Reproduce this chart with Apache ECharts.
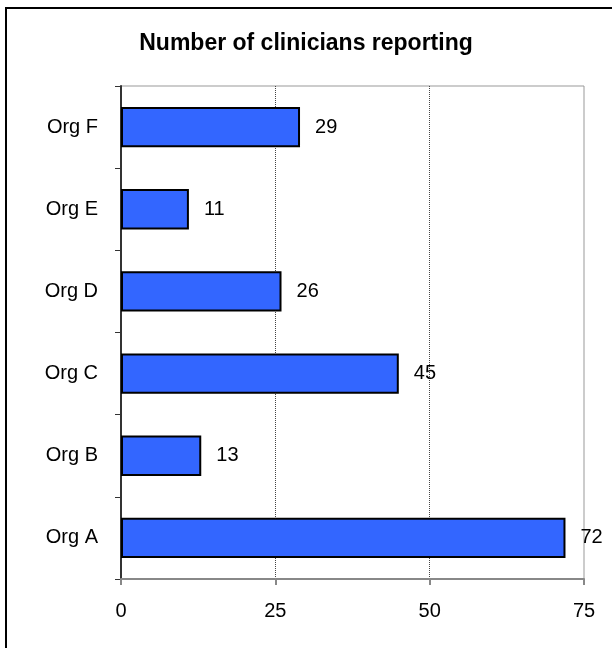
<!DOCTYPE html>
<html>
<head>
<meta charset="utf-8">
<script src="https://cdn.jsdelivr.net/npm/echarts@6/dist/echarts.min.js"></script>
<style>html,body{margin:0;padding:0;background:#fff}#c{width:612px;height:648px}</style>
</head>
<body>
<div id="c"></div>
<script>
const categories = ['Org A', 'Org B', 'Org C', 'Org D', 'Org E', 'Org F'];
const values = [72, 13, 45, 26, 11, 29];
const titleText = 'Number of clinicians reporting';

const FONT = '"Liberation Sans", Arial, sans-serif';
const chart = echarts.init(document.getElementById('c'), null, {renderer: 'canvas'});
chart.setOption({
  animation: false,
  backgroundColor: '#fff',
  graphic: [{
    type: 'rect', shape: {x: 6, y: 8, width: 640, height: 680},
    style: {fill: 'none', stroke: '#000', lineWidth: 2}, z: 100
  }],
  title: {
    text: titleText, left: 'center', top: 27,
    textStyle: {fontFamily: FONT, fontWeight: 'bold', fontSize: 23, color: '#000'}
  },
  grid: {left: 121, right: 28, top: 86, bottom: 69, show: true, borderColor: '#999', borderWidth: 1},
  xAxis: {
    type: 'value', min: 0, max: 75, interval: 25,
    axisLine: {show: true, lineStyle: {color: '#888', width: 2}},
    axisTick: {show: true, length: 6, lineStyle: {color: '#888', width: 2}},
    axisLabel: {fontFamily: FONT, fontSize: 20, color: '#000', margin: 22},
    splitLine: {show: true, showMinLine: false, showMaxLine: false, lineStyle: {color: '#444', type: [1, 1], width: 1}}
  },
  yAxis: {
    type: 'category', data: categories,
    axisLine: {show: true, lineStyle: {color: '#333', width: 2}},
    axisTick: {show: true, length: 6, lineStyle: {color: '#333', width: 1}},
    axisLabel: {fontFamily: FONT, fontSize: 20, color: '#000', margin: 23},
    splitLine: {show: false}
  },
  series: [{
    type: 'bar', data: values, barWidth: '49%',
    itemStyle: {color: '#3366FF', borderColor: '#000', borderWidth: 2},
    label: {show: true, position: 'right', distance: 15, fontFamily: FONT, fontSize: 20, color: '#000'}
  }]
});
</script>
</body>
</html>
